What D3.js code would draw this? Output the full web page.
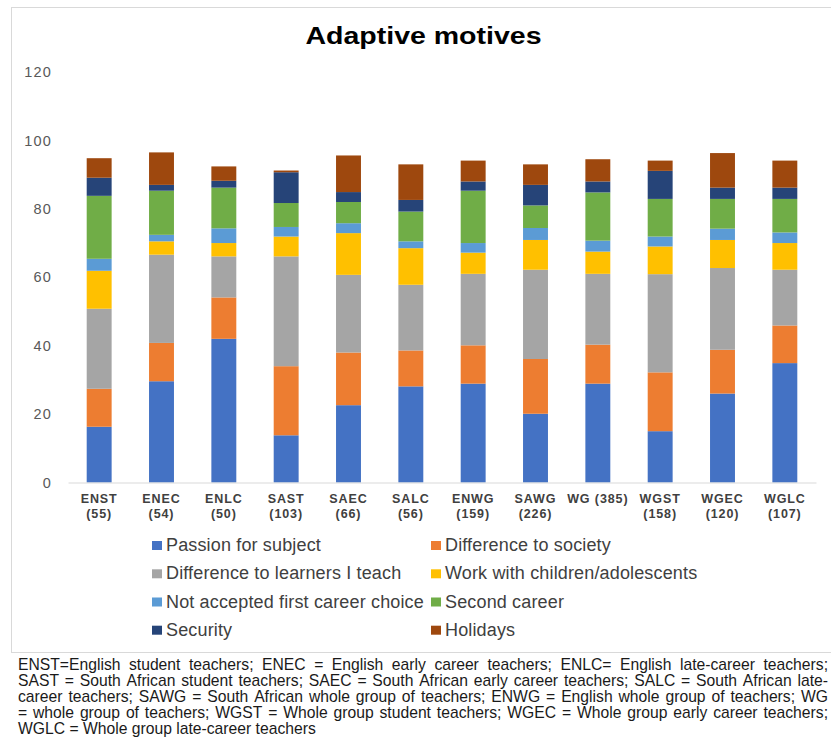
<!DOCTYPE html>
<html>
<head>
<meta charset="utf-8">
<script src="https://cdn.jsdelivr.net/npm/d3@7"></script>
<style>
  html, body { margin: 0; padding: 0; background: #fff; }
  svg { display: block; }
</style>
</head>
<body>
<svg id="chart" width="831" height="738"></svg>
<script>
// Groups of teachers (x categories) and their sample sizes
const categories = ["ENST", "ENEC", "ENLC", "SAST", "SAEC", "SALC", "ENWG", "SAWG", "WG", "WGST", "WGEC", "WGLC"];
const tickLabels = [["ENST", "(55)"], ["ENEC", "(54)"], ["ENLC", "(50)"], ["SAST", "(103)"], ["SAEC", "(66)"], ["SALC", "(56)"],
                    ["ENWG", "(159)"], ["SAWG", "(226)"], ["WG (385)"], ["WGST", "(158)"], ["WGEC", "(120)"], ["WGLC", "(107)"]];
const yTicks = [0, 20, 40, 60, 80, 100, 120];

// Percentage choosing each adaptive motive, per group
const passionForSubject   = [16.3, 29.6, 42.0, 13.8, 22.6, 28.1, 28.9, 20.1, 28.9, 15.0, 26.0, 34.9];
const differenceSociety   = [11.1, 11.2, 12.1, 20.2, 15.4, 10.5, 11.2, 16.0, 11.4, 17.2, 12.8, 11.0];
const differenceLearners  = [23.4, 25.8, 12.0, 32.1, 22.7, 19.2, 20.9, 26.1, 20.7, 28.7, 23.9, 16.3];
const workWithChildren    = [11.1, 3.9, 3.9, 5.8, 12.2, 10.7, 6.2, 8.7, 6.5, 8.1, 8.2, 7.8];
const notFirstChoice      = [3.5, 1.9, 4.3, 2.8, 2.9, 2.0, 2.8, 3.5, 3.2, 2.9, 3.3, 3.1];
const secondCareer        = [18.4, 12.9, 11.9, 7.0, 6.2, 8.7, 15.3, 6.6, 14.1, 11.0, 8.7, 9.8];
const security            = [5.3, 1.7, 2.0, 9.0, 2.9, 3.4, 2.7, 6.0, 3.2, 8.2, 3.3, 3.3];
const holidays            = [5.7, 9.5, 4.2, 0.5, 10.7, 10.4, 6.1, 6.0, 6.5, 3.0, 10.1, 7.9];

const seriesNames = ["Passion for subject", "Difference to society", "Difference to learners I teach",
                     "Work with children/adolescents", "Not accepted first career choice", "Second career",
                     "Security", "Holidays"];
const seriesValues = [passionForSubject, differenceSociety, differenceLearners, workWithChildren,
                      notFirstChoice, secondCareer, security, holidays];
const seriesColors = ["#4472C4", "#ED7D31", "#A5A5A5", "#FFC000", "#5B9BD5", "#70AD47", "#264478", "#9E480E"];

const footnoteLines = [
  "ENST=English student teachers; ENEC = English early career teachers; ENLC= English late-career teachers;",
  "SAST = South African student teachers; SAEC = South African early career teachers; SALC = South African late-",
  "career teachers; SAWG = South African whole group of teachers; ENWG = English whole group of teachers; WG",
  "= whole group of teachers; WGST = Whole group student teachers; WGEC = Whole group early career teachers;",
  "WGLC = Whole group late-career teachers"
];

const svg = d3.select("#chart");
const font = "'Liberation Sans', Arial, Helvetica, sans-serif";

// Chart frame
svg.append("rect")
  .attr("x", 11.5).attr("y", 7.5).attr("width", 830).attr("height", 645)
  .attr("fill", "#fff").attr("stroke", "#d9d9d9").attr("stroke-width", 1);

// Title
svg.append("text")
  .attr("x", 423.5).attr("y", 43.5)
  .attr("text-anchor", "middle")
  .attr("font-family", font).attr("font-weight", "bold").attr("font-size", 23)
  .attr("textLength", 236).attr("lengthAdjust", "spacingAndGlyphs")
  .attr("fill", "#000")
  .text("Adaptive motives");

// Scales
const x = d3.scaleBand().domain(categories).range([68, 816]).paddingInner(0.6).paddingOuter(0.3);
const y = d3.scaleLinear().domain([0, 120]).range([482.5, 72]);

// Stacked data
const table = categories.map((c, i) => {
  const row = { group: c };
  seriesNames.forEach((s, k) => { row[s] = seriesValues[k][i]; });
  return row;
});
const stacked = d3.stack().keys(seriesNames)(table);

// Y axis (labels only)
const yAxis = svg.append("g")
  .attr("transform", "translate(55,0)")
  .call(d3.axisLeft(y).tickValues(yTicks).tickSize(0).tickPadding(3));
yAxis.select(".domain").remove();
yAxis.selectAll("text")
  .attr("font-family", font).attr("font-size", 14.5).attr("letter-spacing", 1.2)
  .attr("fill", "#595959");

// Bars
svg.append("g").selectAll("g")
  .data(stacked)
  .join("g")
  .attr("fill", (d, k) => seriesColors[k])
  .selectAll("rect")
  .data(d => d)
  .join("rect")
  .attr("x", d => x(d.data.group))
  .attr("width", x.bandwidth())
  .attr("y", d => y(d[1]))
  .attr("height", d => y(d[0]) - y(d[1]));

// X axis with two-line category labels
const xAxis = svg.append("g")
  .attr("transform", `translate(0,${y(0)})`)
  .call(d3.axisBottom(x).tickSize(0).tickSizeOuter(0).tickFormat(""));
xAxis.select(".domain").attr("stroke", "#d9d9d9").attr("stroke-width", 1.2);
xAxis.selectAll(".tick").each(function (d, i) {
  const t = d3.select(this).select("text")
    .attr("y", 0).attr("dy", null)
    .attr("font-family", font).attr("font-weight", "bold").attr("font-size", 12.5)
    .attr("letter-spacing", 0.9)
    .attr("fill", "#404040");
  tickLabels[i].forEach((line, j) => {
    t.append("tspan").attr("x", 0).attr("y", 20 + j * 15.5).text(line);
  });
});

// Legend, two columns
const legend = svg.append("g");
const colX = [152, 431];
const rowY = [551, 579.3, 607.5, 635.7];
seriesNames.forEach((name, k) => {
  const cx = colX[k % 2], by = rowY[Math.floor(k / 2)];
  legend.append("rect")
    .attr("x", cx).attr("y", by - 10).attr("width", 10).attr("height", 9)
    .attr("fill", seriesColors[k]);
  legend.append("text")
    .attr("x", cx + 14).attr("y", by)
    .attr("font-family", font).attr("font-size", 18).attr("fill", "#404040")
    .attr("letter-spacing", 0.15)
    .text(name);
});

// Footnote, justified between left and right margins
const noteLeft = 18, noteRight = 828, noteTop = 669.5, noteStep = 16;
const note = svg.append("g")
  .attr("font-family", font).attr("font-size", 15.7).attr("fill", "#1a1a1a");
footnoteLines.forEach((line, i) => {
  const yy = noteTop + i * noteStep;
  const words = line.split(" ");
  const last = i === footnoteLines.length - 1;
  if (last) {
    note.append("text").attr("x", noteLeft).attr("y", yy).text(line);
    return;
  }
  const nodes = words.map(w => note.append("text").attr("y", yy).text(w));
  const widths = nodes.map(n => n.node().getComputedTextLength());
  const total = d3.sum(widths);
  const gap = (noteRight - noteLeft - total) / (words.length - 1);
  let cx = noteLeft;
  nodes.forEach((n, j) => { n.attr("x", cx); cx += widths[j] + gap; });
});
</script>
</body>
</html>
